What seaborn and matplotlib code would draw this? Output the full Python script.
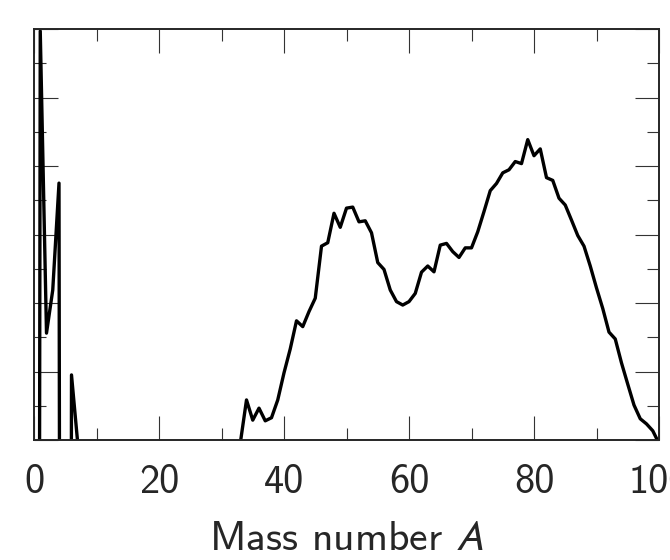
import matplotlib
matplotlib.use('Agg')
import matplotlib.pyplot as plt
from matplotlib.ticker import MultipleLocator
import seaborn as sns

# mass numbers and yield (arbitrary units, values far below the axis are clipped)
mass_number = list(range(0, 101))
yield_values = [
    -100, 11.94, 3.12, 4.38, 7.50, -100, 1.90, -0.1,
    -100, -100, -100, -100, -100, -100, -100, -100, -100, -100,
    -100, -100, -100, -100, -100, -100, -100, -100, -100, -100,
    -100, -100, -100, -100, -100,
    -0.1, 1.17, 0.58, 0.93, 0.56, 0.65, 1.17,
    1.96, 2.66, 3.48, 3.31, 3.75, 4.14, 5.66, 5.76, 6.62, 6.21,
    6.77, 6.80, 6.37, 6.40, 6.05, 5.18, 4.98, 4.38, 4.04, 3.94,
    4.04, 4.28, 4.90, 5.08, 4.91, 5.69, 5.74, 5.50, 5.33, 5.61,
    5.61, 6.08, 6.67, 7.28, 7.49, 7.80, 7.89, 8.13, 8.07, 8.77,
    8.30, 8.50, 7.66, 7.58, 7.06, 6.86, 6.42, 5.97, 5.66, 5.08,
    4.44, 3.84, 3.15, 2.95, 2.25, 1.63, 1.02, 0.62, 0.47, 0.27,
    -0.1,
]

sns.set_style('ticks')
plt.rcParams['font.family'] = ['cmss10', 'DejaVu Sans']
plt.rcParams['mathtext.fontset'] = 'stixsans'
plt.rcParams['axes.linewidth'] = 1.4

fig = plt.figure(figsize=(6.7, 5.6), dpi=100)
ax = fig.add_axes([34 / 670, 120 / 560, 625 / 670, 411 / 560])

sns.lineplot(x=mass_number, y=yield_values, ax=ax, color='black',
             linewidth=2.4, estimator=None, sort=False)

ax.set_xlim(0, 100)
ax.set_ylim(0, 12)
ax.xaxis.set_major_locator(MultipleLocator(20))
ax.xaxis.set_minor_locator(MultipleLocator(10))
ax.yaxis.set_major_locator(MultipleLocator(2))
ax.yaxis.set_minor_locator(MultipleLocator(1))

ax.tick_params(which='both', direction='in', top=True, right=True,
               labelleft=False, width=0.8, color='#333333')
ax.tick_params(which='major', length=17, labelsize=29, pad=17)
ax.tick_params(which='minor', length=8.5)

ax.set_xlabel('Mass number $A$', fontsize=30, labelpad=15)
ax.set_ylabel('')

fig.savefig('out.png', dpi=100)
